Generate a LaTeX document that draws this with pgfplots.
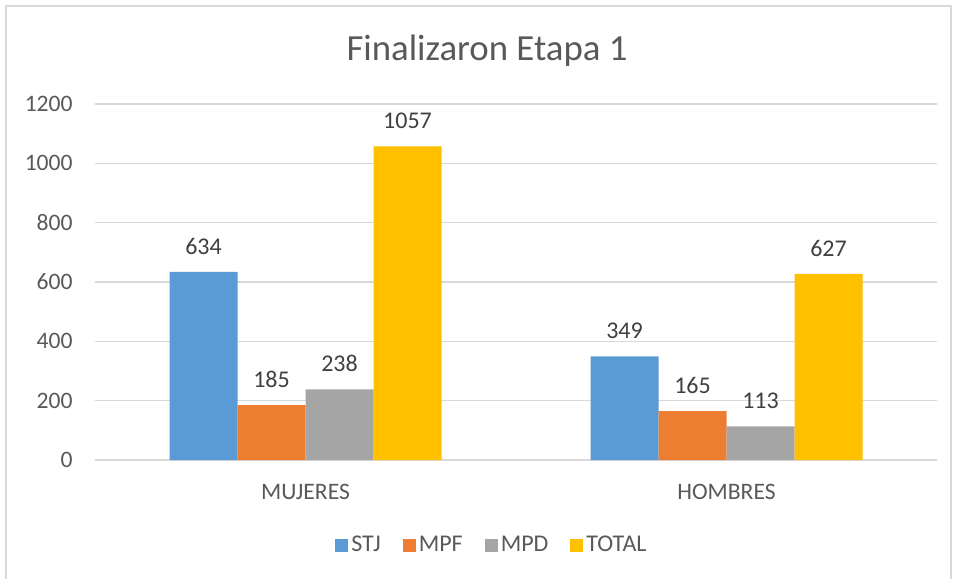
\documentclass[border=0pt]{standalone}
\usepackage{pgfplots}
\pgfplotsset{compat=1.18}
\usepackage{fontspec}
\setmainfont{Carlito}
\definecolor{cSTJ}{HTML}{5B9BD5}
\definecolor{cMPF}{HTML}{ED7D31}
\definecolor{cMPD}{HTML}{A5A5A5}
\definecolor{cTOT}{HTML}{FFC000}
\definecolor{txt}{HTML}{595959}
\definecolor{lbl}{HTML}{404040}
\definecolor{grd}{HTML}{D9D9D9}
\begin{document}
\begin{tikzpicture}
\begin{axis}[
  at={(0,0)}, anchor=south west,
  scale only axis, width=421pt, height=178pt,
  ybar=0pt, bar width=34pt,
  xmin=-0.5, xmax=1.5, ymin=0, ymax=1200,
  xtick={0,1}, xticklabels={MUJERES,HOMBRES},
  ytick={0,200,...,1200},
  ymajorgrids, grid style={grd, line width=0.75pt},
  axis line style={draw=none},
  major tick length=0pt,
  tick label style={font=\fontsize{11.8}{13}\selectfont, text=txt},
  /pgf/number format/assume math mode=true,
  /pgf/number format/1000 sep={},
  xticklabel style={anchor=north, inner sep=0pt, yshift=-12pt},
  yticklabel style={anchor=east, inner sep=0pt, xshift=-11pt},
  nodes near coords,
  every node near coord/.append style={font=\fontsize{12}{14}\selectfont, text=lbl, anchor=south, inner sep=0pt, yshift=8.5pt},
  title={Finalizaron Etapa 1},
  title style={at={(0.4656,1.115)}, anchor=center, font=\fontsize{18.4}{22}\selectfont, text=txt},
  legend columns=4,
  legend style={at={(0.472,-0.239)}, anchor=center, draw=none, fill=none,
    font=\fontsize{12}{13}\selectfont, text=txt,
    /tikz/every even column/.append style={column sep=9.5pt},
    nodes={inner sep=1.5pt}},
  legend image code/.code={\fill[#1] (0pt,-3.25pt) rectangle (6.5pt,3.25pt);},
]
\addplot[fill=cSTJ, draw=none] coordinates {(0,634) (1,349)};
\addplot[fill=cMPF, draw=none] coordinates {(0,185) (1,165)};
\addplot[fill=cMPD, draw=none] coordinates {(0,238) (1,113)};
\addplot[fill=cTOT, draw=none] coordinates {(0,1057) (1,627)};
\legend{STJ,MPF,MPD,TOTAL}
\end{axis}
\draw[grd, line width=0.9pt] (-44.5pt,-62pt) -- (-44.5pt,227pt) -- (428pt,227pt) -- (428pt,-62pt);
\pgfresetboundingbox
\useasboundingbox (-47.5pt,-59pt) rectangle (431pt,230pt);
\end{tikzpicture}
\end{document}
